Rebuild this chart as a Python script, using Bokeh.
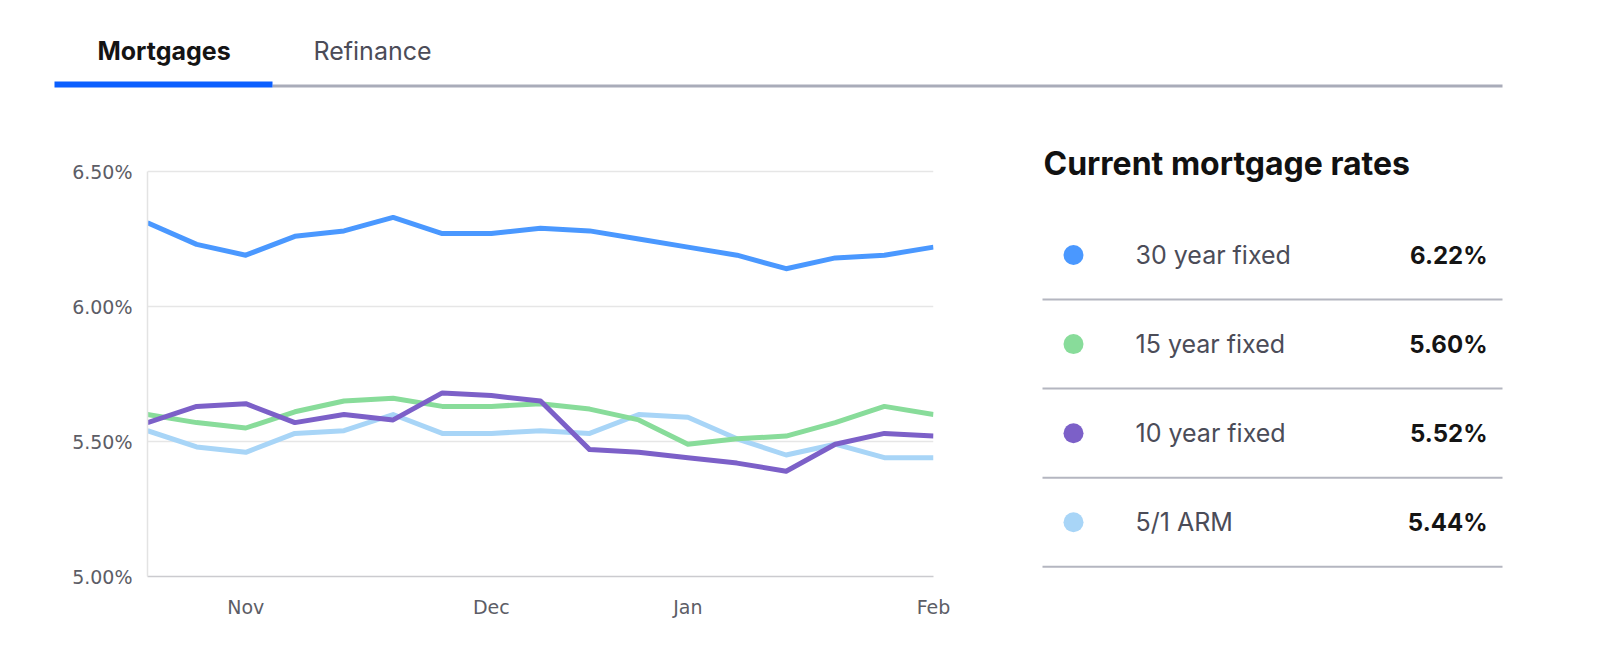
from bokeh.plotting import figure
from bokeh.layouts import column, row
from bokeh.models import Range1d, FixedTicker, PrintfTickFormatter, ColumnDataSource
from bokeh.core.properties import value
from bokeh.embed import file_html
from bokeh.resources import INLINE

# ---------------- data ----------------
tab_labels = ["Mortgages", "Refinance"]
series_names = ["30 year fixed", "15 year fixed", "10 year fixed", "5/1 ARM"]
rate_30yr = [6.31, 6.23, 6.19, 6.26, 6.28, 6.33, 6.27, 6.27, 6.29, 6.28, 6.25, 6.22, 6.19, 6.14, 6.18, 6.19, 6.22]
rate_15yr = [5.60, 5.57, 5.55, 5.61, 5.65, 5.66, 5.63, 5.63, 5.64, 5.62, 5.58, 5.49, 5.51, 5.52, 5.57, 5.63, 5.60]
rate_10yr = [5.57, 5.63, 5.64, 5.57, 5.60, 5.58, 5.68, 5.67, 5.65, 5.47, 5.46, 5.44, 5.42, 5.39, 5.49, 5.53, 5.52]
rate_arm = [5.54, 5.48, 5.46, 5.53, 5.54, 5.60, 5.53, 5.53, 5.54, 5.53, 5.60, 5.59, 5.51, 5.45, 5.49, 5.44, 5.44]
x_tick_positions = [2, 7, 11, 16]
x_tick_labels = ["Nov", "Dec", "Jan", "Feb"]
y_ticks = [5.0, 5.5, 6.0, 6.5]
title_text = "Current mortgage rates"

colors = ["#4a98ff", "#88dc9a", "#7c60c8", "#a8d5f7"]
all_series = [rate_30yr, rate_15yr, rate_10yr, rate_arm]

FONT_UI = "Inter"
FONT_AX = "DejaVu Sans"

# ---------------- tabs (top strip) ----------------
tabs = figure(width=1584, height=120, x_range=Range1d(0, 1584), y_range=Range1d(120, 0),
              x_axis_type=None, y_axis_type=None, toolbar_location=None,
              output_backend="svg", min_border=0, outline_line_color=None)
tabs.grid.visible = False
tabs.quad(left=[272], right=[1502], top=[84], bottom=[87], fill_color="#a9acb9", line_color=None)
tabs.quad(left=[54], right=[272], top=[81], bottom=[87], fill_color="#0b5fff", line_color=None)
tabs.text(x=[97], y=[50], text=[tab_labels[0]], text_font=value(FONT_UI), text_font_style="bold",
          text_font_size=value("25px"), text_color="#141414", text_baseline="middle", text_align="left")
tabs.text(x=[313], y=[50], text=[tab_labels[1]], text_font=value(FONT_UI),
          text_font_size=value("25px"), text_color="#4b4c58", text_baseline="middle", text_align="left")

# ---------------- line chart ----------------
n = len(rate_30yr)
xs = list(range(n))
y_lo, y_hi = y_ticks[0], y_ticks[-1]
px_per_unit = 405 / (y_hi - y_lo)
chart = figure(frame_width=786, frame_height=456, min_border_left=147, min_border_right=75,
               min_border_top=0, min_border_bottom=73,
               x_range=Range1d(0, n - 1), y_range=Range1d(y_lo, y_hi + 51 / px_per_unit),
               toolbar_location=None, output_backend="svg", outline_line_color=None)
chart.xgrid.visible = False
chart.ygrid.grid_line_color = "#e6e6e6"
chart.ygrid.grid_line_width = 1.5
chart.ygrid.ticker = FixedTicker(ticks=y_ticks)

chart.yaxis.ticker = FixedTicker(ticks=y_ticks)
chart.yaxis.formatter = PrintfTickFormatter(format="%.2f%%")
chart.yaxis.bounds = (y_lo, y_hi)
chart.xaxis.ticker = FixedTicker(ticks=x_tick_positions)
chart.xaxis.major_label_overrides = {p: l for p, l in zip(x_tick_positions, x_tick_labels)}
for ax in (chart.xaxis, chart.yaxis):
    ax.major_tick_line_color = None
    ax.minor_tick_line_color = None
    ax.major_tick_out = 0
    ax.major_tick_in = 0
    ax.minor_tick_out = 0
    ax.minor_tick_in = 0
    ax.major_label_text_font = FONT_AX
    ax.major_label_text_font_size = "19px"
    ax.major_label_text_color = "#5c5d66"
chart.yaxis.axis_line_color = "#e3e3e3"
chart.yaxis.axis_line_width = 1.5
chart.yaxis.major_label_standoff = 15
chart.xaxis.axis_line_color = "#cbcbcf"
chart.xaxis.axis_line_width = 1.5
chart.xaxis.major_label_standoff = 19

draw_order = [3, 1, 2, 0]
for i in draw_order:
    chart.line(xs, all_series[i], line_color=colors[i], line_width=5, line_join="round")

# ---------------- right panel ----------------
panel = figure(width=576, frame_height=456, min_border_top=0, min_border_bottom=73,
               min_border_left=0, min_border_right=0,
               x_range=Range1d(1008, 1584), y_range=Range1d(576, 120),
               x_axis_type=None, y_axis_type=None, toolbar_location=None,
               output_backend="svg", outline_line_color=None)
panel.grid.visible = False
panel.text(x=[1043], y=[163], text=[title_text], text_font=value(FONT_UI), text_font_style="bold",
           text_font_size=value("32px"), text_color="#111111", text_baseline="middle", text_align="left")

row_y = [254.5 + 89.1 * i for i in range(len(series_names))]
values_txt = [f"{s[-1]:.2f}%" for s in all_series]
src = ColumnDataSource(dict(y=row_y, name=series_names, val=values_txt, color=colors,
                            sep=[y + 44.5 for y in row_y]))
panel.scatter(x=1073, y="y", size=20, fill_color="color", line_color=None, source=src)
panel.text(x=1135, y="y", text="name", text_font=value(FONT_UI), text_font_size=value("25px"),
           text_color="#4b4c58", text_baseline="middle", text_align="left", source=src)
panel.text(x=1487, y="y", text="val", text_font=value(FONT_UI), text_font_style="bold",
           text_font_size=value("24px"), text_color="#141414", text_baseline="middle", text_align="right",
           source=src)
panel.segment(x0=1042, x1=1502, y0="sep", y1="sep", line_color="#b4b6c0", line_width=2, source=src)

layout = column(tabs, row(chart, panel, spacing=0), spacing=0)
open("out.html", "w").write(file_html(layout, INLINE))
